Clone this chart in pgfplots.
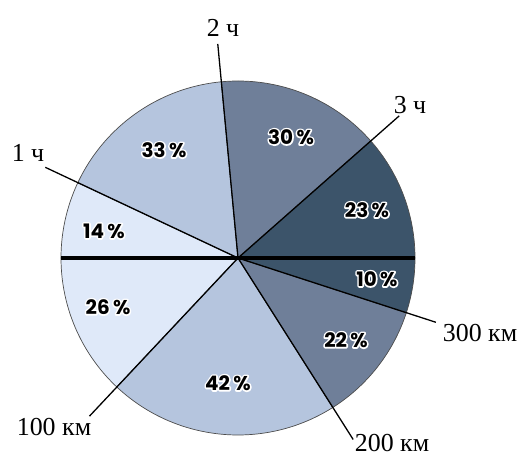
\documentclass[border=0pt]{standalone}
\usepackage{pgfplots}
\pgfplotsset{compat=1.18}
\usepackage{fontspec}
\setmainfont{Liberation Serif}
\newfontfamily\pctfont{Poppins}
\definecolor{cL}{HTML}{DFE9F9}
\definecolor{cM}{HTML}{B5C5DE}
\definecolor{cD}{HTML}{6F7F99}
\definecolor{cX}{HTML}{3C546A}
% centre (238,201), radius 177 (picture units = bp)
\newcommand{\pieslice}[3]{\addplot[fill=#1,draw=black!70,line width=0.7pt,domain={#2}:{#3},samples=80]
  ({238+177*cos(x)},{201+177*sin(x)}) -- (axis cs:238,201) -- cycle;}
\newcommand{\leader}[2]{\addplot[black,line width=1.3pt,domain=0:#2,samples=2]
  ({238+x*cos(#1)},{201+x*sin(#1)});}
\newcommand{\pctfontsel}{\pctfont\bfseries\fontsize{20}{20}\selectfont}
\newcommand{\pct}[3]{%
  \node[font=\pctfontsel] at (axis cs:#1,#2) {\special{pdf:literal direct 1 1 1 RG 3.2 w 1 j 1 Tr}#3\,\%\special{pdf:literal direct 0 Tr}};
  \node[font=\pctfontsel] at (axis cs:#1,#2) {#3\,\%};}
\newcommand{\lab}[3]{\node[font=\fontsize{26}{26}\selectfont,inner sep=0pt] at (axis cs:#1,#2) {#3};}
\begin{document}
\begin{tikzpicture}
\begin{axis}[width=521bp,height=459bp,scale only axis,
  xmin=0,xmax=521,ymin=0,ymax=459,hide axis,clip=false]
% upper half (time): 14, 33, 30, 23 %
\pieslice{cL}{180-1.8*(14)}{180}
\pieslice{cM}{180-1.8*(14+33)}{180-1.8*(14)}
\pieslice{cD}{180-1.8*(14+33+30)}{180-1.8*(14+33)}
\pieslice{cX}{0}{180-1.8*(14+33+30)}
% lower half (distance): 26, 42, 22, 10 %
\pieslice{cL}{180}{180+1.8*(26)}
\pieslice{cM}{180+1.8*(26)}{180+1.8*(26+42)}
\pieslice{cD}{180+1.8*(26+42)}{180+1.8*(26+42+22)}
\pieslice{cX}{180+1.8*(26+42+22)}{360}
% leader lines
\leader{180-1.8*(14)}{213}
\leader{180-1.8*(14+33)}{215}
\leader{180-1.8*(14+33+30)}{215}
\leader{180+1.8*(26)}{217}
\leader{180+1.8*(26+42)}{215}
\leader{180+1.8*(26+42+22)}{208}
% thick diameter
\addplot[black,line width=5pt,line cap=butt] coordinates {(61,201) (415,201)};
% percentages
\pct{104}{228}{14}
\pct{164}{309}{33}
\pct{291}{322}{30}
\pct{367}{249}{23}
\pct{108}{152}{26}
\pct{228}{76}{42}
\pct{346}{119}{22}
\pct{377}{180}{10}
% labels
\lab{28}{306}{1 ч}
\lab{223}{431}{2 ч}
\lab{410}{354}{3 ч}
\lab{480}{126}{300 км}
\lab{392}{16}{200 км}
\lab{54}{32}{100 км}
\end{axis}
\pgfresetboundingbox
\path (0,0) rectangle (521bp,459bp);
\end{tikzpicture}
\end{document}
